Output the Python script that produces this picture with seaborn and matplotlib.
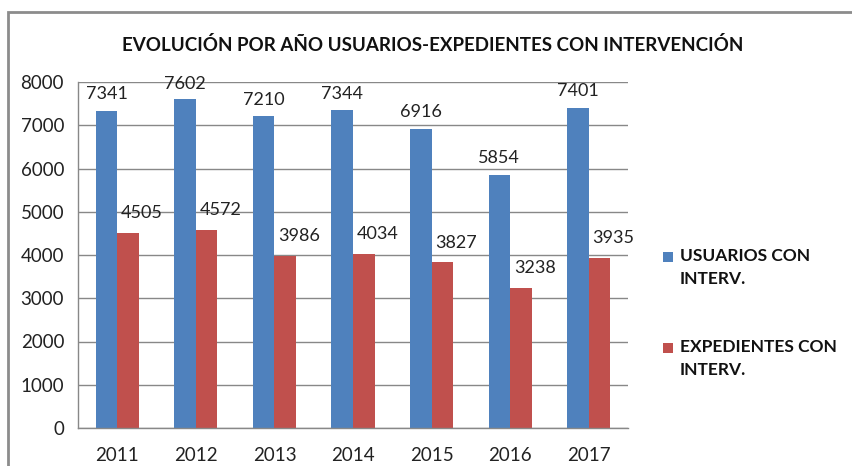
import pandas as pd
import matplotlib.pyplot as plt
import matplotlib.patches as mpatches
import seaborn as sns

# Datos del gráfico
anios = ['2011', '2012', '2013', '2014', '2015', '2016', '2017']
usuarios = [7341, 7602, 7210, 7344, 6916, 5854, 7401]
expedientes = [4505, 4572, 3986, 4034, 3827, 3238, 3935]
series = ['USUARIOS CON\nINTERV.', 'EXPEDIENTES CON\nINTERV.']
colores = ['#4F81BD', '#C0504D']
titulo = 'EVOLUCIÓN POR AÑO USUARIOS-EXPEDIENTES CON INTERVENCIÓN'

df = pd.DataFrame({
    'anio': anios * 2,
    'valor': usuarios + expedientes,
    'serie': [series[0]] * len(anios) + [series[1]] * len(anios),
})

sns.set_style('white')
plt.rcParams['font.family'] = ['Lato', 'DejaVu Sans']

fig = plt.figure(figsize=(8.52, 4.66), dpi=100)
ax = fig.add_axes([78 / 852, 1 - 428 / 466, 550 / 852, 346 / 466])

sns.barplot(data=df, x='anio', y='valor', hue='serie', palette=colores,
            width=0.55, gap=0, legend=False, ax=ax, saturation=1,
            linewidth=0, edgecolor='none')

gris = '#888888'
ax.set_ylim(0, 8000)
ax.set_xlim(-0.5, len(anios) - 0.5)
ax.set_yticks(range(0, 8001, 1000))
ax.yaxis.grid(True, color=gris, linewidth=1)
ax.set_axisbelow(True)
ax.set_xlabel('')
ax.set_ylabel('')
for s in ['top', 'right']:
    ax.spines[s].set_visible(False)
for s in ['left', 'bottom']:
    ax.spines[s].set_color(gris)
    ax.spines[s].set_linewidth(1)

# marcas del eje x entre categorías
ax.set_xticks([i - 0.5 for i in range(len(anios) + 1)], minor=True)
ax.tick_params(axis='x', which='minor', length=6, color=gris, direction='out')
ax.tick_params(axis='x', which='major', length=0, pad=14, labelsize=13.5, labelcolor='#222222')
ax.tick_params(axis='y', length=6, color=gris, direction='out', pad=4, labelsize=13.5,
               labelcolor='#222222')

# etiquetas de valor
desplaz = [380, 460]
dx = [0, 10]
for k, cont in enumerate(ax.containers):
    for barra in cont:
        h = barra.get_height()
        xc = barra.get_x() + barra.get_width() / 2
        ax.annotate(f'{int(round(h))}', xy=(xc, min(h + desplaz[k], 7950)),
                    xytext=(dx[k], 0), textcoords='offset points',
                    ha='center', va='center', fontsize=13, color='#222222',
                    annotation_clip=False)

fig.text(433 / 852, 1 - 45 / 466, titulo, ha='center', va='center',
         fontsize=13.5, fontweight='bold', color='#111111')

# leyenda
ys = [257, 348]
for k in range(2):
    fig.patches.append(mpatches.Rectangle((663 / 852, 1 - (ys[k] + 5) / 466), 10 / 852, 10 / 466,
                                          transform=fig.transFigure, facecolor=colores[k],
                                          edgecolor='none'))
    fig.text(680 / 852, 1 - (ys[k] - 9) / 466, series[k], ha='left', va='top',
             fontsize=12.5, fontweight='bold', color='#111111', linespacing=1.55)

# marco del gráfico
fig.patches.append(mpatches.Rectangle((8 / 852, -0.1), 1.1, 1 - 12 / 466 + 0.1,
                                      transform=fig.transFigure, fill=False,
                                      edgecolor='#8c8c8c', linewidth=2))

fig.savefig('out.png', dpi=100)
